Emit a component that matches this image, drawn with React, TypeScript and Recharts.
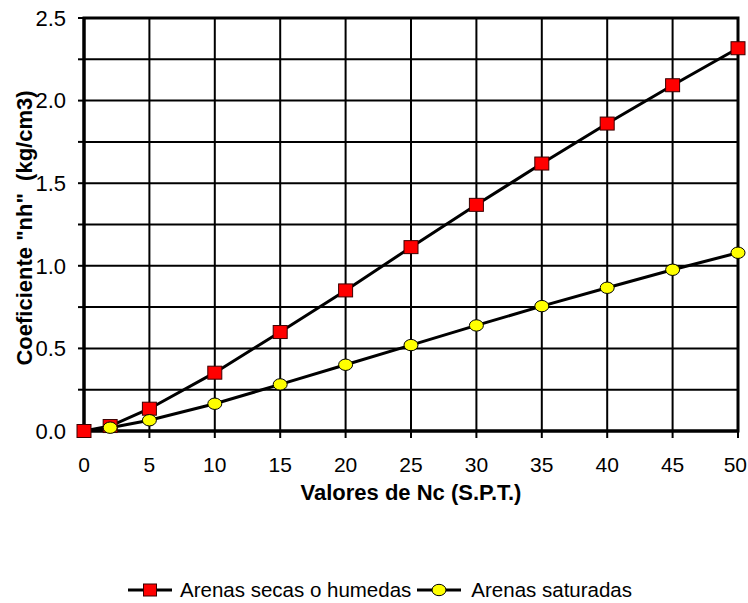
import React from 'react';
import {
    LineChart,
    Line,
    XAxis,
    YAxis,
    CartesianGrid,
    ReferenceArea,
} from 'recharts';

// valores de Nc (S.P.T.)
const nValues = [0, 2, 5, 10, 15, 20, 25, 30, 35, 40, 45, 50];
// coeficiente nh (kg/cm3)
const arenasSecas = [0, 0.03, 0.135, 0.353, 0.599, 0.851, 1.113, 1.369, 1.619, 1.861, 2.093, 2.317];
const arenasSaturadas = [0, 0.02, 0.065, 0.165, 0.282, 0.401, 0.52, 0.639, 0.756, 0.867, 0.976, 1.079];

const xTicks = [0, 5, 10, 15, 20, 25, 30, 35, 40, 45, 50];
const yTicks = [0, 0.25, 0.5, 0.75, 1, 1.25, 1.5, 1.75, 2, 2.25, 2.5];

const SERIES_NAMES = ['Arenas secas o humedas', 'Arenas saturadas'];

const data = nValues.map((n, i) => ({
    n,
    secas: arenasSecas[i],
    saturadas: arenasSaturadas[i],
}));

const FONT = 'Arial, "Liberation Sans", Helvetica, sans-serif';

const SquareDot = (props: any) => {
    const { cx, cy, index } = props;
    if (cx == null || cy == null) return <g key={`sq-${index}`} />;
    return (
        <rect
            key={`sq-${index}`}
            x={cx - 7}
            y={cy - 6.5}
            width={14}
            height={13}
            fill="#ff0000"
            stroke="#3a0000"
            strokeWidth={1}
        />
    );
};

const CircleDot = (props: any) => {
    const { cx, cy, index } = props;
    // first point sits under the red square at the origin
    if (cx == null || cy == null || index === 0) return <g key={`ci-${index}`} />;
    return (
        <ellipse
            key={`ci-${index}`}
            cx={cx}
            cy={cy}
            rx={7}
            ry={5.7}
            fill="#ffff00"
            stroke="#000"
            strokeWidth={1}
        />
    );
};

// x tick: last label kept inside the page edge
const XTick = (props: any) => {
    const { x, y, payload, index, visibleTicksCount } = props;
    const last = index === (visibleTicksCount ?? xTicks.length) - 1;
    return (
        <text
            x={last ? x + 9 : x}
            y={y}
            dy="0.71em"
            textAnchor={last ? 'end' : 'middle'}
            fontFamily={FONT}
            fontSize={21}
            fill="#000"
        >
            {payload.value}
        </text>
    );
};

const LegendSymbol = ({ kind }: { kind: 'square' | 'circle' }) => (
    <svg width={44} height={16} style={{ display: 'block' }}>
        <line x1={0} y1={8} x2={44} y2={8} stroke="#000" strokeWidth={3} />
        {kind === 'square' ? (
            <rect x={15.5} y={2} width={13} height={12} fill="#ff0000" stroke="#3a0000" strokeWidth={1} />
        ) : (
            <ellipse cx={22} cy={8} rx={7} ry={5.7} fill="#ffff00" stroke="#000" strokeWidth={1} />
        )}
    </svg>
);

const App: React.FC = () => {
    return (
        <div style={{ position: 'absolute', left: 0, top: 0, width: 748, height: 603, background: '#fff', fontFamily: FONT }}>
            <LineChart
                width={748}
                height={603}
                data={data}
                margin={{ top: 18, right: 10, left: 0, bottom: 102 }}
            >
                <CartesianGrid stroke="#000" strokeWidth={2} horizontalValues={yTicks} verticalValues={xTicks} />
                <XAxis
                    dataKey="n"
                    type="number"
                    domain={[0, 50]}
                    ticks={xTicks}
                    interval={0}
                    height={70}
                    tickSize={7}
                    tickMargin={19}
                    axisLine={{ stroke: '#000', strokeWidth: 3 }}
                    tickLine={{ stroke: '#000', strokeWidth: 2 }}
                    tick={<XTick />}
                    label={{
                        content: () => (
                            <text
                                x={411}
                                y={492}
                                textAnchor="middle"
                                dominantBaseline="central"
                                fontFamily={FONT}
                                fontSize={22}
                                fontWeight="bold"
                                fill="#000"
                            >
                                Valores de Nc (S.P.T.)
                            </text>
                        ),
                    }}
                />
                <YAxis
                    type="number"
                    domain={[0, 2.5]}
                    ticks={yTicks}
                    interval={0}
                    width={84}
                    tickSize={6}
                    tickMargin={12}
                    axisLine={{ stroke: '#000', strokeWidth: 3 }}
                    tickLine={{ stroke: '#000', strokeWidth: 2 }}
                    tick={{ fill: '#000', fontSize: 22, fontFamily: FONT }}
                    tickFormatter={(v: number) => (Math.abs((v * 2) % 1) < 1e-9 ? v.toFixed(1) : '')}
                    label={{
                        content: () => (
                            <text
                                x={24}
                                y={228}
                                transform="rotate(-90 24 228)"
                                textAnchor="middle"
                                dominantBaseline="central"
                                fontFamily={FONT}
                                fontSize={22}
                                fontWeight="bold"
                                fill="#000"
                                style={{ whiteSpace: 'pre' }}
                            >
                                {'Coeficiente "nh"  (kg/cm3)'}
                            </text>
                        ),
                    }}
                />
                <ReferenceArea x1={0} x2={50} y1={0} y2={2.5} fill="none" stroke="#000" strokeWidth={3} ifOverflow="visible" />
                <Line
                    type="linear"
                    dataKey="secas"
                    name={SERIES_NAMES[0]}
                    stroke="#000"
                    strokeWidth={3}
                    dot={SquareDot}
                    activeDot={false}
                    isAnimationActive={false}
                />
                <Line
                    type="linear"
                    dataKey="saturadas"
                    name={SERIES_NAMES[1]}
                    stroke="#000"
                    strokeWidth={3}
                    dot={CircleDot}
                    activeDot={false}
                    isAnimationActive={false}
                />
            </LineChart>
            <div
                style={{
                    position: 'absolute',
                    top: 578,
                    left: 128,
                    height: 24,
                    display: 'flex',
                    alignItems: 'center',
                    fontSize: 20.5,
                    lineHeight: '24px',
                    color: '#000',
                    whiteSpace: 'nowrap',
                }}
            >
                <LegendSymbol kind="square" />
                <span style={{ margin: '0 6px 0 8px' }}>{SERIES_NAMES[0]}</span>
                <LegendSymbol kind="circle" />
                <span style={{ margin: '0 0 0 10px' }}>{SERIES_NAMES[1]}</span>
            </div>
        </div>
    );
};

export default App;
